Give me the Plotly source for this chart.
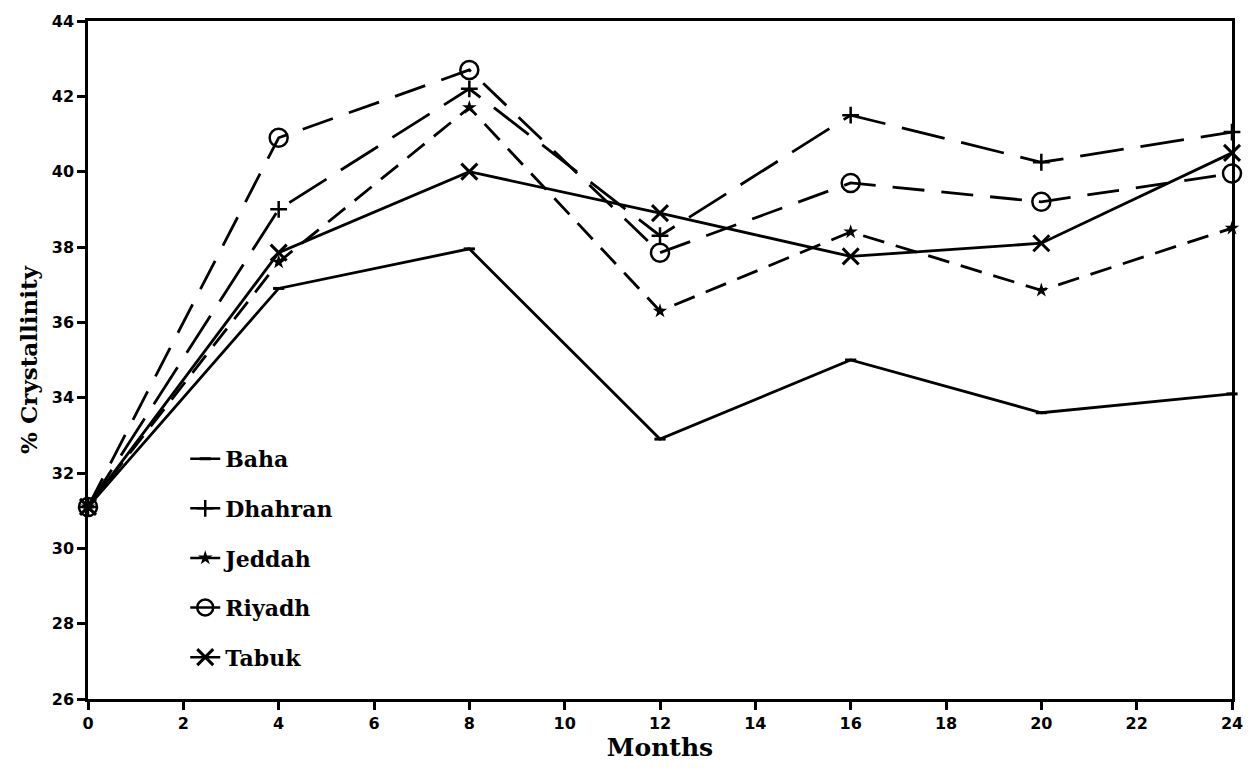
import plotly.graph_objects as go

months = [0, 4, 8, 12, 16, 20, 24]
baha = [31.1, 36.9, 37.95, 32.9, 35.0, 33.6, 34.1]
dhahran = [31.1, 39.0, 42.2, 38.3, 41.5, 40.25, 41.05]
jeddah = [31.1, 37.6, 41.7, 36.3, 38.4, 36.85, 38.5]
riyadh = [31.1, 40.9, 42.7, 37.85, 39.7, 39.2, 39.95]
tabuk = [31.1, 37.85, 40.0, 38.9, 37.75, 38.1, 40.5]

series = [
    ("Baha", baha, "solid", dict(symbol="line-ew-open", size=8, line=dict(width=3, color="black"))),
    ("Dhahran", dhahran, "44px,17px", dict(symbol="cross-thin-open", size=12, line=dict(width=2.5, color="black"))),
    ("Jeddah", jeddah, "22px,12px", dict(symbol="star", size=11, color="black", line=dict(width=0, color="black"))),
    ("Riyadh", riyadh, "32px,17px", dict(symbol="circle-open", size=18, color="black", line=dict(width=2.5, color="black"))),
    ("Tabuk", tabuk, "solid", dict(symbol="x-thin-open", size=16, line=dict(width=3, color="black"))),
]

fig = go.Figure()
for name, vals, dash, marker in series:
    fig.add_trace(go.Scatter(
        x=months, y=vals, mode="lines+markers", name=name,
        line=dict(color="black", width=2.8, dash=dash),
        marker=marker, showlegend=False, cliponaxis=False,
    ))
# legend entries (short solid line through the symbol, as in the reference)
for name, vals, dash, marker in series:
    fig.add_trace(go.Scatter(
        x=[None], y=[None], mode="lines+markers", name=name,
        line=dict(color="black", width=2.5, dash="solid"),
        marker=marker, showlegend=True, legendgroup=name,
    ))

fig.update_layout(
    width=1255, height=776,
    margin=dict(l=88, r=23, t=15, b=77),
    plot_bgcolor="white", paper_bgcolor="white",
    showlegend=True,
    legend=dict(
        x=0.085, y=0.385, xanchor="left", yanchor="top",
        font=dict(family="DejaVu Serif", size=22, color="black", weight="bold"),
        bgcolor="rgba(0,0,0,0)", traceorder="grouped", tracegroupgap=18,
    ),
    xaxis=dict(
        range=[0, 24], tickvals=list(range(0, 25, 2)),
        showgrid=False, zeroline=False,
        showline=True, linecolor="black", linewidth=2.5, mirror=True,
        ticks="outside", ticklen=8, tickwidth=2.5, tickcolor="black",
        tickfont=dict(family="DejaVu Sans", size=16, color="black", weight="bold"),
        title=dict(text="Months", standoff=0,
                   font=dict(family="DejaVu Serif", size=25, color="black", weight="bold")),
    ),
    yaxis=dict(
        range=[26, 44], tickvals=list(range(26, 45, 2)),
        showgrid=False, zeroline=False,
        showline=True, linecolor="black", linewidth=2.5, mirror=True,
        ticks="outside", ticklen=8, tickwidth=2.5, tickcolor="black",
        tickfont=dict(family="DejaVu Sans", size=16, color="black", weight="bold"),
        title=dict(text="% Crystallinity", standoff=8,
                   font=dict(family="DejaVu Serif", size=23, color="black", weight="bold")),
    ),
)

fig.write_html("out.html")
